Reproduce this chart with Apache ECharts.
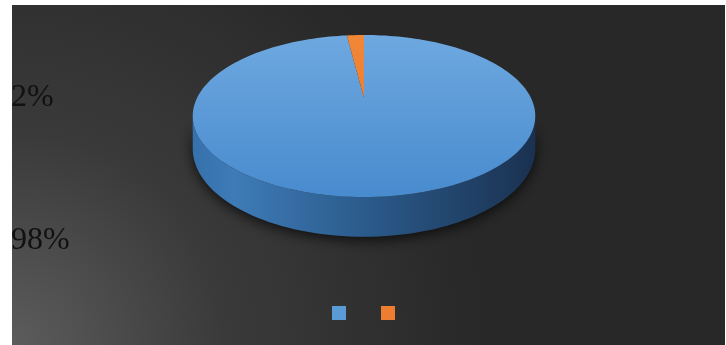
<!DOCTYPE html>
<html>
<head>
<meta charset="utf-8">
<script src="https://cdn.jsdelivr.net/npm/echarts@6/dist/echarts.min.js"></script>
<style>html,body{margin:0;padding:0;background:#fff;}#c{width:726px;height:345px;}</style>
</head>
<body>
<div id="c"></div>
<script>
// ---- data ----
const categories = ['Category 1', 'Category 2'];
const values = [98, 2];
const colors = ['#5b9bd5', '#ed7d31'];

// ---- geometry (perspective projection of a 3D disc) ----
const CX = 364, CY = 98, RX = 167, B = 77, P = -0.222, H = 31;
function proj(theta, lift) {
  const u = Math.sin(theta), d = -Math.cos(theta);
  const k = 1 / (1 + P * d);
  return [CX + RX * u * k, CY + B * d * k + lift * k];
}
const S1 = Math.acos(P), S2 = 2 * Math.PI - Math.acos(P);

const total = values.reduce((a, b) => a + b, 0);
let acc = 0;
const ranges = values.map(v => { const r = [acc / total, (acc + v) / total]; acc += v; return r; });

const topFills = [
  new echarts.graphic.LinearGradient(0, 35, 0, 197, [{offset: 0, color: '#6ea8e0'}, {offset: 1, color: '#488bce'}], true),
  new echarts.graphic.LinearGradient(0, 35, 0, 197, [{offset: 0, color: '#f38738'}, {offset: 1, color: '#e0742a'}], true)
];
const sideFills = [
  new echarts.graphic.LinearGradient(193, 0, 536, 0, [
    {offset: 0, color: '#3671ab'}, {offset: 0.12, color: '#3e7bb7'}, {offset: 0.5, color: '#2b5b8b'}, {offset: 1, color: '#1a3150'}], true),
  new echarts.graphic.LinearGradient(193, 0, 536, 0, [{offset: 0, color: '#c0601f'}, {offset: 1, color: '#7a3a10'}], true)
];

function makeRender(idx) {
  return function (params, api) {
    const a0 = api.value(0) * 2 * Math.PI, a1 = api.value(1) * 2 * Math.PI;
    const children = [];
    const s0 = Math.max(a0, S1), s1 = Math.min(a1, S2);
    if (s1 > s0) {
      const pts = [];
      const N = 80;
      for (let i = 0; i <= N; i++) pts.push(proj(s0 + (s1 - s0) * i / N, 0));
      for (let i = N; i >= 0; i--) pts.push(proj(s0 + (s1 - s0) * i / N, H));
      children.push({type: 'polygon', shape: {points: pts},
        style: {fill: sideFills[idx], shadowBlur: 14, shadowColor: 'rgba(0,0,0,0.75)', shadowOffsetY: 3}});
    }
    const top = [[CX, CY]];
    const M = Math.max(4, Math.ceil((a1 - a0) / (2 * Math.PI) * 200));
    for (let i = 0; i <= M; i++) top.push(proj(a0 + (a1 - a0) * i / M, 0));
    children.push({type: 'polygon', shape: {points: top}, style: {fill: topFills[idx]}});
    return {type: 'group', children: children};
  };
}

const series = categories.map((name, i) => ({
  type: 'custom',
  name: name,
  coordinateSystem: 'none',
  itemStyle: {color: colors[i]},
  renderItem: makeRender(i),
  data: [ranges[i]],
  silent: true,
  z: 2 + i
}));

const labelTexts = values.map(v => Math.round(v / total * 100) + '%');

const chart = echarts.init(document.getElementById('c'), null, {renderer: 'canvas'});
chart.setOption({
  backgroundColor: '#ffffff',
  animation: false,
  legend: {
    data: categories.map(n => ({name: n, icon: 'rect'})),
    left: 327, top: 301,
    itemWidth: 14, itemHeight: 14, itemGap: 35,
    formatter: () => '',
    selectedMode: false
  },
  graphic: [
    {type: 'rect', z: -10, shape: {x: 12, y: 5, width: 713, height: 340},
      style: {fill: new echarts.graphic.RadialGradient(12, 345, 470, [
        {offset: 0, color: '#5c5c5c'}, {offset: 0.45, color: '#3a3a3a'}, {offset: 1, color: '#282828'}], true)}},
    {type: 'text', z: 50, x: 11, y: 98, style: {text: labelTexts[1], font: '32px "Liberation Serif"', fill: '#111111', verticalAlign: 'middle'}},
    {type: 'text', z: 50, x: 11, y: 241, style: {text: labelTexts[0], font: '32px "Liberation Serif"', fill: '#111111', verticalAlign: 'middle'}}
  ],
  series: series
});
</script>
</body>
</html>
